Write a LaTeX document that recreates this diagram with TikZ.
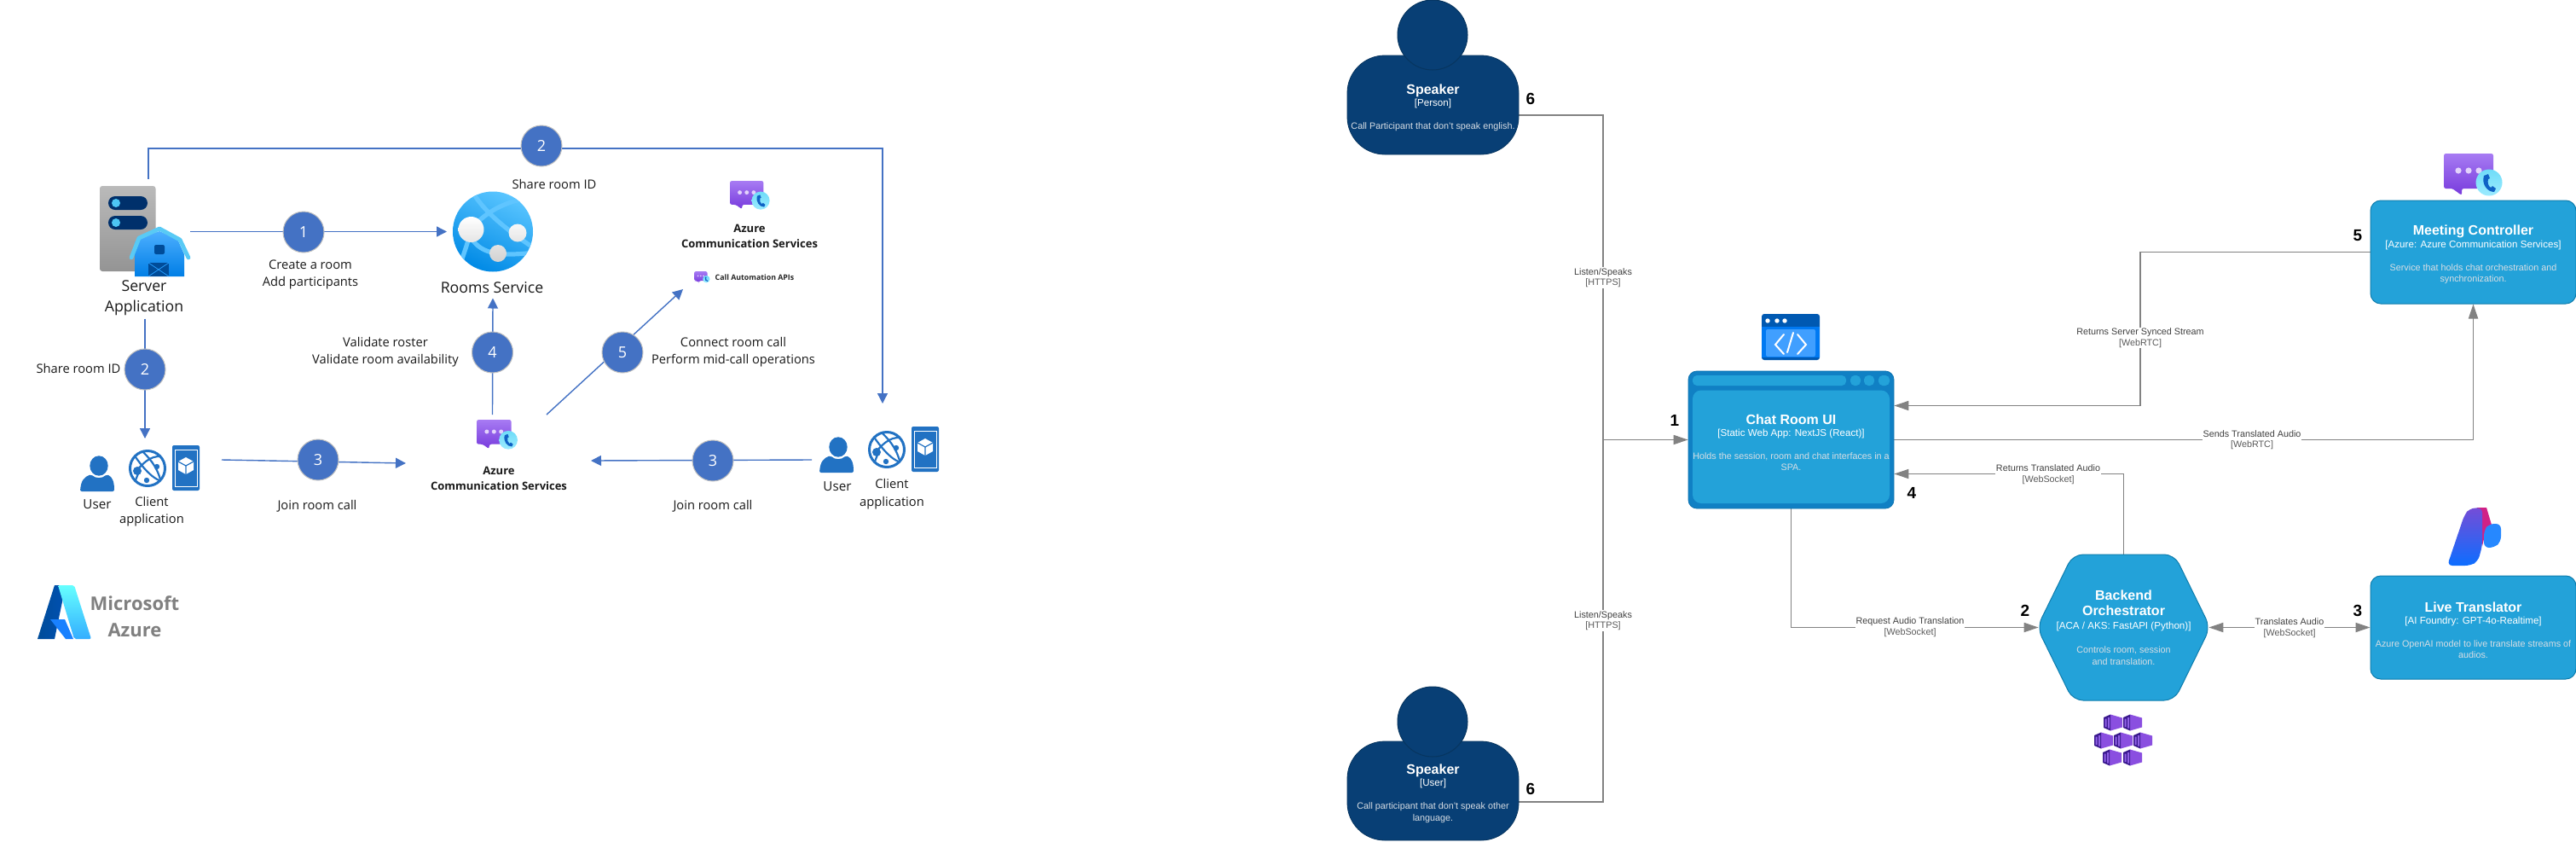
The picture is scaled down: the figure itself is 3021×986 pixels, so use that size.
\documentclass[tikz,border=0pt]{standalone}
\usepackage{fontspec}
\setmainfont{Liberation Sans}
\newfontfamily\uifont{Open Sans}
\usetikzlibrary{arrows.meta,calc,shapes.geometric}
\pgfdeclarelayer{canvas}\pgfdeclarelayer{lines}
\pgfsetlayers{canvas,lines,main}
\definecolor{flow}{HTML}{4472C4}
\definecolor{navy}{HTML}{083F75}
\definecolor{navyb}{HTML}{07355F}
\definecolor{cbox}{HTML}{23A2D9}
\definecolor{cboxb}{HTML}{0E7DAD}
\definecolor{cframe}{HTML}{1080C4}
\definecolor{wire}{HTML}{828282}
\definecolor{desc}{HTML}{D8DEE4}
\definecolor{tint}{HTML}{2272C3}
\definecolor{acstop}{HTML}{A77BF3}
\definecolor{acsbot}{HTML}{773ADC}
\definecolor{acsdot}{HTML}{E3D3FB}
\definecolor{acscyan}{HTML}{9CEBFF}
\definecolor{acscyanb}{HTML}{6FDCF8}
\definecolor{acsphone}{HTML}{0F62C5}
\definecolor{kubelight}{HTML}{8A4FE0}
\definecolor{kubedark}{HTML}{3B1A8F}
\definecolor{kubestripe}{HTML}{8F5FE6}
\definecolor{pill}{HTML}{00306B}
\tikzset{
 flowline/.style={draw=flow,line width=.7pt,-{Triangle[length=6pt,width=6pt]}},
 wireline/.style={draw=wire,line width=.55pt},
 wirearrow/.style={wireline,-{Triangle[length=8.5pt,width=5.6pt]}},
 wirebi/.style={wireline,{Triangle[length=8.5pt,width=5.6pt]}-{Triangle[length=8.5pt,width=5.6pt]}},
 stepdot/.style={circle,fill=flow,draw=black!25,line width=.5pt,minimum size=24pt,inner sep=0pt,text=white,font=\uifont\fontsize{9}{10}\selectfont},
 uitext/.style={inner sep=0pt,align=center,text=black!90,font=\uifont\fontsize{7.35}{10.2}\selectfont},
 uibig/.style={inner sep=0pt,align=center,text=black!90,font=\uifont\fontsize{8.85}{12}\selectfont},
 uibold/.style={inner sep=0pt,align=center,text=black!90,font=\uifont\bfseries\fontsize{6.5}{9}\selectfont},
 iconbox/.style={inner sep=0pt,outer sep=0pt},
 card/.style={rounded corners=6pt,draw=cboxb,fill=cbox,line width=.5pt,inner sep=0pt,align=center,text=white,font=\fontsize{5.4}{6.7}\selectfont},
 navybody/.style={rounded corners=22pt,draw=navyb,fill=navy,line width=.4pt,inner sep=0pt,align=center,text=white,font=\fontsize{5.4}{6.7}\selectfont,minimum width=100.5pt,minimum height=58pt},
 navyhead/.style={circle,draw=navyb,fill=navy,line width=.5pt,minimum size=41pt,inner sep=0pt},
 wirelabel/.style={fill=white,inner sep=.4pt,align=center,text=black!75,font=\fontsize{5.4}{6.2}\selectfont},
 bignum/.style={inner sep=0pt,font=\bfseries\fontsize{9.5}{10}\selectfont},
}
\newcommand{\boxhead}[2]{{\rule{0pt}{9pt}\fontsize{8}{8}\selectfont\bfseries #1}\\[.5pt]{\fontsize{5.8}{8}\selectfont #2}\\[6.8pt]}
\newcommand{\desctxt}[1]{{\color{desc}#1}}
\newcommand{\wlabel}[2]{#1\\{\color{black!65}#2}}
\newcommand{\acsicon}[3]{\begin{scope}[shift={(#1,#2)},scale=#3]
 \shade[top color=acstop,bottom color=acsbot,rounded corners=1.2pt] (0,0) -- (58,0) -- (58,41) -- (21,41) -- (21,42) -- (21,49) -- (10,41) -- (0,41) -- cycle;
 \fill[acsdot] (17,20) circle (3.6) (29,20) circle (3.6) (41,20) circle (3.6);
 \shade[top color=acscyanb,bottom color=acscyan] (53,34) circle (15.5);
 \fill[acsphone] (47,26) .. controls (44,36) and (51,45) .. (59,45) -- (61,41) -- (57,38) -- (55,40) .. controls (52,38) and (51,34) .. (52,30) -- (54,29) -- (52,24) -- cycle;
\end{scope}}
\newcommand{\kube}[2]{\begin{scope}[shift={(#1,#2)}]
 \fill[kubelight] (-3,-9.5) -- (11,-5.5) -- (11,5.5) -- (-3,9.5) -- cycle;
 \fill[kubedark] (-11,-6) -- (-3,-9.5) -- (-3,9.5) -- (-11,6) -- cycle;
 \fill[kubestripe] (-9.5,-4.5) rectangle (-7.5,5) (-6,-6) rectangle (-4,6.5);
\end{scope}}
\newcommand{\userapp}{
 \fill[tint] (116,546) ellipse (10.7 and 11.7);
 \fill[tint,rounded corners=1pt] (94,576) .. controls (95,563) and (99,559) .. (107,556) .. controls (112,561) and (120,561) .. (125,556) .. controls (132,559) and (134,565) .. (134,576) -- cycle;
 \draw[tint,line width=1.5pt] (173,549) circle (20.5);
 \begin{scope}
  \clip (173,549) circle (20.5);
  \draw[tint,line width=1.1pt] (155,530) .. controls (165,545) and (180,565) .. (195,565);
  \draw[tint,line width=1.1pt] (160,552) .. controls (170,540) and (180,532) .. (194,536);
  \draw[tint,line width=1.1pt] (163,553) .. controls (160,560) and (158,565) .. (157,570);
  \draw[tint,line width=1.1pt] (168,530) .. controls (178,540) and (186,550) .. (190,570);
 \end{scope}
 \fill[tint] (161,552) circle (5) (184,547) circle (3.2) (172,563) circle (3.2);
 \fill[tint,rounded corners=1pt] (202,522) rectangle (234,575);
 \draw[white,line width=.4pt] (205,527) rectangle (231,570);
 \fill[white] (218,536) -- (227,541) -- (227,551) -- (218,556) -- (209,551) -- (209,541) -- cycle;
 \draw[tint,line width=.6pt] (209,541) -- (218,546) -- (227,541) (218,546) -- (218,556);
}
\begin{document}
\begin{tikzpicture}[x=.5pt,y=-.5pt]
\useasboundingbox (0,0) rectangle (3021,986);
\begin{pgfonlayer}{canvas}\fill[white] (0,0) rectangle (3021,986);\end{pgfonlayer}

% ---------- left diagram: icons ----------
\node[iconbox,minimum width=53pt,minimum height=53pt] (server) at (170,271.5) {};
\shade[top color=black!27,bottom color=black!42,rounded corners=1.5pt] (117,218) rectangle (182.5,318);
\fill[pill,rounded corners=4pt] (127,230) rectangle (173,246) (127,253) rectangle (173,269);
\fill[cyan!70!white] (136,238) circle (5) (136,261) circle (5);
\shade[top color=blue!45!cyan!70!white,bottom color=blue!45!cyan!90!black] (158,324) -- (158,284) -- (166,278) -- (187,271) -- (208,280) -- (216,298) -- (216,324) -- cycle;
\draw[cyan!65!white,line width=2.4pt,line cap=round,line join=round] (154,302) -- (163,279) -- (187,268) -- (211,281) -- (221,302);
\fill[blue!50!cyan!60!black,rounded corners=1pt] (181,287) rectangle (193,298);
\fill[blue!50!cyan!60!black] (174,308) rectangle (198,324);
\draw[blue!45!cyan!85!white,line width=.4pt] (174,308) -- (198,324) (198,308) -- (174,324);

\userapp
\begin{scope}[shift={(867,-22)}]\userapp\end{scope}
\node[iconbox,minimum width=76pt,minimum height=53pt] (clientA) at (170,567) {};
\node[iconbox,minimum width=74pt,minimum height=66pt] (clientB) at (1035,539) {};

\node[circle,iconbox,minimum size=47pt] (rooms) at (578,271.5) {};
\shade[top color=blue!35!cyan!65!white,bottom color=blue!40!cyan!90!black,shading angle=-25] (578,271.5) circle (47);
\begin{scope}
 \clip (578,271.5) circle (47);
 \draw[white!62!blue!60!cyan,line width=2.6pt] (552,269) .. controls (572,245) and (600,233) .. (628,232);
 \draw[white!62!blue!60!cyan,line width=2.6pt] (556,228) .. controls (570,250) and (595,270) .. (628,292);
 \draw[white!62!blue!60!cyan,line width=2.6pt] (552,269) .. controls (548,290) and (540,305) .. (536,325);
 \draw[white!62!blue!60!cyan,line width=2.6pt] (552,278) .. controls (565,300) and (590,300) .. (628,296);
\end{scope}
\shade[top color=white,bottom color=black!18] (552.5,269) circle (15) (607,273) circle (10.5) (584,297) circle (10);

\acsicon{559}{492}{.7}
\node[iconbox,minimum width=24pt,minimum height=20pt] (acsAicon) at (583,511) {};
\acsicon{856}{212}{.68}
\node[iconbox,minimum width=23pt,minimum height=19pt] (acsBicon) at (879,231) {};
\acsicon{814}{318}{.27}
\node[iconbox,minimum width=9pt,minimum height=7pt] (callapi) at (823,325) {};

% Azure logo
\shade[left color=blue!50!cyan!60!black,right color=blue!55!cyan!70!black] (44,749) -- (64,686) -- (77,686) -- (64,749) -- cycle;
\shade[top color=cyan!60!white,bottom color=blue!40!cyan!80!white,rounded corners=1pt] (68,686) -- (87,686) -- (107,749) -- (87,749) -- cycle;
\fill[blue!55!cyan!90!white] (59,726) -- (76,726) -- (86,749) -- (77,749) -- cycle;

% ---------- left diagram: steps and labels ----------
\node[stepdot] (s1) at (356,272) {1};
\node[stepdot] (s2a) at (170,433) {2};
\node[stepdot] (s2b) at (635,171) {2};
\node[stepdot] (s3a) at (373,539) {3};
\node[stepdot] (s3b) at (836,540) {3};
\node[stepdot] (s4) at (577.5,413) {4};
\node[stepdot] (s5) at (730,413) {5};

\node[uibig] (serverlbl) at (169,349) {Server\\Application};
\node[uitext] (t1) at (364,322) {Create a room\\Add participants};
\node[uitext] (t2a) at (92,432) {Share room ID};
\node[uitext] (t2b) at (650,216) {Share room ID};
\node[uibig] (roomslbl) at (577,337) {Rooms Service};
\node[uitext] (t4) at (452,412.5) {Validate roster\\Validate room availability};
\node[uitext] (t5) at (860,412.5) {Connect room call\\Perform mid-call operations};
\node[uitext] (t3a) at (372,593) {Join room call};
\node[uitext] (t3b) at (836,593) {Join room call};
\node[uibold] (acsAlbl) at (585,561) {Azure\\Communication Services};
\node[uibold] (acsBlbl) at (879,277) {Azure\\Communication Services};
\node[inner sep=0pt,text=black!85,font=\uifont\bfseries\fontsize{4.4}{5}\selectfont] (apilbl) at (885,325) {Call Automation APIs};
\node[inner sep=0pt,text=black!90,font=\uifont\fontsize{7.6}{10}\selectfont] (u1) at (114,591) {User};
\node[uitext] (c1) at (178,599.5) {Client\\application};
\node[inner sep=0pt,text=black!90,font=\uifont\fontsize{7.6}{10}\selectfont] (u2) at (982,570) {User};
\node[uitext] (c2) at (1046,579) {Client\\application};
\node[inner sep=0pt,align=center,text=black!50,font=\uifont\bfseries\fontsize{11}{15.6}\selectfont] (mslogo) at (158,722.5) {Microsoft\\Azure};

% ---------- right diagram: nodes ----------
\node[navybody] (spk1) at (1680.5,123) {\boxhead{Speaker}{[Person]}\desctxt{Call Participant that don't speak english.}};
\node[navyhead] (head1) at (1680,41) {};
\node[navybody] (spk2) at (1680.5,927) {\boxhead{Speaker}{[User]}\desctxt{Call participant that don't speak other}\\\desctxt{language.}};
\node[navyhead] (head2) at (1680,846) {};

\node[rounded corners=5pt,fill=cframe,draw=cframe!90!black,line width=.4pt,inner sep=0pt,minimum width=120.5pt,minimum height=80.5pt] (chatframe) at (2100.5,515.5) {};
\fill[cbox,rounded corners=2.5pt] (1985,440) rectangle (2165,452) (2170,440) rectangle (2182,452) (2186,440) rectangle (2198,452) (2203,440) rectangle (2216,452);
\fill[cbox,rounded corners=5pt] (1985,457.5) rectangle (2216,590);
\node[inner sep=0pt,align=center,text=white,font=\fontsize{5.4}{6.7}\selectfont,minimum width=120.5pt,minimum height=80.5pt] (chat) at (2100.5,515.5) {\boxhead{Chat Room UI}{[Static Web App: NextJS (React)]}\desctxt{Holds the session, room and chat interfaces in a}\\\desctxt{SPA.}};

\node[card,minimum width=120.5pt,minimum height=60.5pt] (meet) at (2900.5,295.5) {\boxhead{Meeting Controller}{[Azure: Azure Communication Services]}\desctxt{Service that holds chat orchestration and}\\\desctxt{synchronization.}};
\node[card,minimum width=120.5pt,minimum height=60.5pt] (live) at (2900.5,735.5) {\boxhead{Live Translator}{[AI Foundry: GPT-4o-Realtime]}\desctxt{Azure OpenAI model to live translate streams of}\\\desctxt{audios.}};

\fill[cbox,draw=cboxb,line width=.5pt,rounded corners=6pt] (2389,735.5) -- (2431,650) -- (2550,650) -- (2592,735.5) -- (2550,821) -- (2431,821) -- cycle;
\node[inner sep=0pt,align=center,text=white,font=\fontsize{5.4}{6.7}\selectfont,minimum width=98.5pt,minimum height=85.5pt] (back) at (2490.5,735.5) {{\fontsize{8}{8}\selectfont\bfseries Backend}\\[2.7pt]{\fontsize{8}{8}\selectfont\bfseries Orchestrator}\\[1.2pt]{\fontsize{5.8}{8}\selectfont [ACA / AKS: FastAPI (Python)]}\\[7.2pt]\desctxt{Controls room, session}\\[.3pt]\desctxt{and translation.}};

% ---------- right diagram: icons ----------
\node[iconbox,rounded corners=1.5pt,fill=blue!50!cyan!70!black,minimum width=34pt,minimum height=27pt] (chaticon) at (2100,395) {};
\fill[blue!50!cyan!95!black] (2066,383) rectangle (2134,419);
\fill[blue!50!cyan!75!white,rounded corners=1pt] (2071,386) rectangle (2129,418);
\fill[white] (2073,376) circle (2.7) (2084,376) circle (2.7) (2093,376) circle (2.7);
\draw[white,line width=1pt,line cap=round] (2092,392) -- (2082,404) -- (2092,415) (2108,392) -- (2118,404) -- (2108,415) (2103,390) -- (2096,413);
\acsicon{2866}{180}{1}
\foreach \kx/\ky in {2478/847,2501/847,2467/868,2490/868,2513/868,2477/888,2501/888}{\kube{\kx}{\ky}}
% Foundry icon
\fill[magenta!70!violet] (2905,595) -- (2916,595) -- (2924,622) -- (2913,632) -- (2911,640) -- cycle;
\shade[top color=violet!45!blue!70!white,bottom color=blue!60!cyan!95!white,rounded corners=3pt] (2870,663) -- (2890,604) -- (2896,596) -- (2911,595) -- (2911,640) -- (2906,658) -- (2897,663) -- cycle;
\fill[blue!55!cyan!85!white,rounded corners=3pt] (2913,622) -- (2919,614) -- (2933,614) -- (2933,635) -- (2925,642) -- (2913,642) -- cycle;

\node[bignum] (n6a) at (1795,116) {6};
\node[bignum] (n6b) at (1795,925) {6};
\node[bignum] (n1) at (1964,493) {1};
\node[bignum] (n2) at (2375,716) {2};
\node[bignum] (n3) at (2765,716) {3};
\node[bignum] (n4) at (2242,578) {4};
\node[bignum] (n5) at (2765,276) {5};

% ---------- connectors ----------
\coordinate (topL) at (174,174);
\coordinate (topR) at (1035,174);
\coordinate (trunk) at (1880,515.5);
\coordinate (meetbend) at (2510,295.5);
\begin{pgfonlayer}{lines}
 \draw[flowline] (server.east) -- ([xshift=-3.5pt]rooms.west);
 \draw[flowline] ([yshift=-24.5pt]server.south) -- (clientA.north);
 \draw[flowline,line join=miter] ([shift={(2pt,4.5pt)}]server.north) -- (topL) -- (topR) -- (clientB.north);
 \draw[flowline] ([shift={(7pt,14pt)}]clientA.east) -- ([shift={(-41.5pt,-16pt)}]acsAicon.west);
 \draw[flowline] ([xshift=-4.5pt]clientB.west) -- ([shift={(43pt,-14.5pt)}]acsAicon.east);
 \draw[flowline] ([shift={(-2.75pt,2.5pt)}]acsAicon.north) -- ([yshift=-15.5pt]rooms.south);
 \draw[flowline] ([shift={(17pt,2.5pt)}]acsAicon.north east) -- ([shift={(-6.5pt,-3.5pt)}]callapi.south west);

 \draw[wireline] ([yshift=-6pt]spk1.east) -| (trunk);
 \draw[wireline] ([yshift=-6.5pt]spk2.east) -| (trunk);
 \draw[wirearrow] (trunk) -- (chat.west);
 \draw[wirearrow] (meet.west) -- (meetbend) |- ([yshift=20pt]chat.east);
 \draw[wirearrow] (chat.east) -| (meet.south);
 \draw[wirearrow] (back.north) |- ([yshift=-20pt]chat.east);
 \draw[wirearrow] (chat.south) |- ([xshift=-.5pt]back.west);
 \draw[wirebi] ([xshift=.5pt]back.east) -- (live.west);
\end{pgfonlayer}
\node[wirelabel] (l1) at (1880,325.5) {\wlabel{Listen/Speaks}{[HTTPS]}};
\node[wirelabel] (l2) at (1880,727.5) {\wlabel{Listen/Speaks}{[HTTPS]}};
\node[wirelabel] (l3) at (2510,396) {\wlabel{Returns Server Synced Stream}{[WebRTC]}};
\node[wirelabel] (l4) at (2641,515.5) {\wlabel{Sends Translated Audio}{[WebRTC]}};
\node[wirelabel] (l5) at (2402,556) {\wlabel{Returns Translated Audio}{[WebSocket]}};
\node[wirelabel] (l6) at (2240,735) {\wlabel{Request Audio Translation}{[WebSocket]}};
\node[wirelabel] (l7) at (2685,736) {\wlabel{Translates Audio}{[WebSocket]}};
\end{tikzpicture}
\end{document}
